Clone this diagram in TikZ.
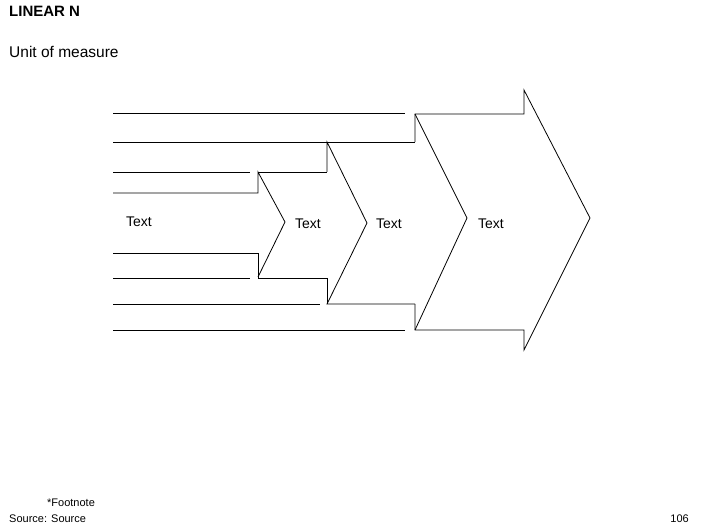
\documentclass[tikz,border=0pt]{standalone}
\usepackage{fontspec}
\setmainfont{Liberation Sans}
\begin{document}
\begin{tikzpicture}[x=1pt,y=-1pt,ln/.style={draw,line width=0.8pt,line join=miter},
  lbl/.style={font=\fontsize{14}{16}\selectfont,inner sep=0pt}]
\useasboundingbox (0,0) rectangle (706,529);
\node[anchor=west,inner sep=0pt,font=\fontsize{15}{17}\selectfont\bfseries] (title) at (9,11) {LINEAR N};
\node[anchor=west,inner sep=0pt,font=\fontsize{15.5}{17}\selectfont] (unit) at (9,52) {Unit of measure};
\node[anchor=west,inner sep=0pt,font=\fontsize{11}{13}\selectfont] (fn) at (47,503) {*Footnote};
\node[anchor=west,inner sep=0pt,font=\fontsize{11}{13}\selectfont] (src) at (9,519) {Source: Source};
\node[anchor=east,inner sep=0pt,font=\fontsize{11}{13}\selectfont] (pg) at (689,519) {106};
% big chevron
\path[ln] (415,142)--(415,114)--(524,114)--(524,90)--(590,218)--(524,350)--(524,330)--(415,330)--(415,304);
\path[ln] (415,114)--(467,218)--(415,330);
% level 3
\path[ln] (113,142)--(415,142);
\path[ln] (327,172)--(327,142)--(367,223)--(327,304)--(415,304);
\path[ln] (327,304)--(327,278);
% level 2
\path[ln] (113,172)--(250,172);
\path[ln] (258,172)--(327,172);
\path[ln] (113,193)--(258,193)--(258,172)--(285,222)--(258,277);
\path[ln] (113,253)--(258,253)--(258,278)--(327,278);
\path[ln] (113,278)--(250,278);
% outer lines
\path[ln] (113,113)--(405,113);
\path[ln] (113,304)--(320,304);
\path[ln] (113,330)--(405,330);
\node[lbl] (t1) at (139,222) {Text};
\node[lbl] (t2) at (308,224) {Text};
\node[lbl] (t3) at (389,224) {Text};
\node[lbl] (t4) at (491,224) {Text};
\end{tikzpicture}
\end{document}
